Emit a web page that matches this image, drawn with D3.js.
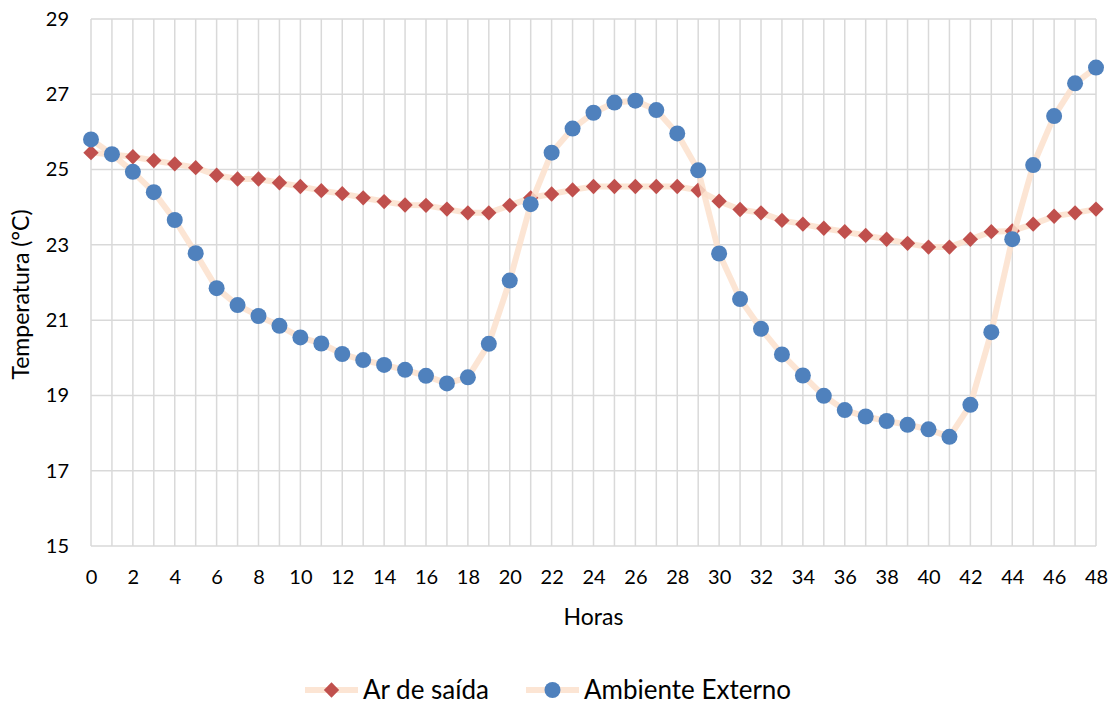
<!DOCTYPE html>
<html><head><meta charset="utf-8">
<script src="https://cdn.jsdelivr.net/npm/d3@7"></script>
<style>body{margin:0;background:#fff;} svg{display:block;font-family:Lato,"Open Sans",sans-serif;}</style>
</head><body><svg id="c" width="1115" height="704"></svg>
<script>
const hours = d3.range(0, 49);
const arSaida = [25.45,25.4,25.34,25.24,25.15,25.05,24.85,24.75,24.75,24.65,24.55,24.44,24.36,24.25,24.15,24.06,24.05,23.95,23.85,23.85,24.05,24.25,24.35,24.46,24.55,24.55,24.55,24.55,24.55,24.45,24.16,23.94,23.85,23.65,23.55,23.44,23.35,23.25,23.15,23.04,22.94,22.94,23.15,23.35,23.37,23.55,23.76,23.85,23.95];
const ambExterno = [25.8,25.41,24.94,24.4,23.66,22.78,21.85,21.4,21.11,20.85,20.54,20.38,20.1,19.94,19.81,19.68,19.52,19.32,19.48,20.37,22.05,24.08,25.45,26.09,26.51,26.78,26.83,26.58,25.96,24.98,22.77,21.56,20.77,20.09,19.53,18.99,18.61,18.44,18.32,18.22,18.1,17.9,18.75,20.68,23.15,25.12,26.42,27.29,27.71];
const yTicks = [15,17,19,21,23,25,27,29];
const xTicks = d3.range(0, 49, 2);
const seriesNames = ["Ar de saída","Ambiente Externo"];
const yTitle = "Temperatura (°C)";
const xTitle = "Horas";

const svg = d3.select("#c");
const L = 91, R = 1096, T = 19, B = 546;
const x = d3.scaleLinear().domain([0,48]).range([L,R]);
const y = d3.scaleLinear().domain([15,29]).range([B,T]);
const grid = "#d9d9d9";
const FONT = "Lato,'Open Sans',sans-serif";

svg.append("g").selectAll("line").data(hours).join("line")
  .attr("x1", d=>x(d)).attr("x2", d=>x(d)).attr("y1", T).attr("y2", B)
  .attr("stroke", grid).attr("stroke-width", 1.5);
svg.append("g").selectAll("line").data(yTicks).join("line")
  .attr("x1", L).attr("x2", R).attr("y1", d=>y(d)).attr("y2", d=>y(d))
  .attr("stroke", grid).attr("stroke-width", 1.5);

const yAxis = svg.append("g").attr("transform", `translate(${L},0)`)
  .call(d3.axisLeft(y).tickValues(yTicks).tickSize(0).tickPadding(22));
yAxis.select(".domain").remove();
yAxis.selectAll("text").attr("font-size", 20).attr("font-family", FONT).attr("fill","#000");
const xAxis = svg.append("g").attr("transform", `translate(0,${B})`)
  .call(d3.axisBottom(x).tickValues(xTicks).tickSize(0).tickPadding(24));
xAxis.select(".domain").remove();
xAxis.selectAll("text").attr("font-size", 20).attr("font-family", FONT).attr("fill","#000");

svg.append("text").attr("x", (L+R)/2).attr("y", 625).attr("text-anchor","middle")
  .attr("font-size", 23).text(xTitle);
svg.append("text").attr("transform", `translate(29,${(T+B)/2 + 12}) rotate(-90)`).attr("text-anchor","middle")
  .attr("font-size", 23).text(yTitle);

const lineColor = "rgba(251,224,204,0.85)";
const line = d3.line().x((d,i)=>x(hours[i])).y(d=>y(d));
const diamond = d3.symbol().type(d3.symbolDiamond2).size(150);

svg.append("path").datum(arSaida).attr("d", line).attr("fill","none")
  .attr("stroke", lineColor).attr("stroke-width", 6).attr("stroke-linejoin","round");
svg.append("g").selectAll("path").data(arSaida).join("path")
  .attr("d", diamond).attr("transform", (d,i)=>`translate(${x(hours[i])},${y(d)})`)
  .attr("fill", "#c0504d");
svg.append("path").datum(ambExterno).attr("d", line).attr("fill","none")
  .attr("stroke", lineColor).attr("stroke-width", 6).attr("stroke-linejoin","round");
svg.append("g").selectAll("circle").data(ambExterno).join("circle")
  .attr("cx", (d,i)=>x(hours[i])).attr("cy", d=>y(d)).attr("r", 8)
  .attr("fill", "#4f81bd");

const lg = svg.append("g");
const ly = 690;
const items = [{x0:305, name:seriesNames[0], type:"d"},{x0:526, name:seriesNames[1], type:"c"}];
items.forEach(it=>{
  lg.append("line").attr("x1", it.x0).attr("x2", it.x0+53).attr("y1", ly).attr("y2", ly)
    .attr("stroke", lineColor).attr("stroke-width", 6);
  if (it.type==="d") lg.append("path").attr("d", diamond).attr("transform",`translate(${it.x0+26.5},${ly})`).attr("fill","#c0504d");
  else lg.append("circle").attr("cx", it.x0+26.5).attr("cy", ly).attr("r", 8).attr("fill","#4f81bd");
  lg.append("text").attr("x", it.x0+58).attr("y", ly).attr("dy","0.35em").attr("font-size", 26).text(it.name);
});
</script></body></html>
